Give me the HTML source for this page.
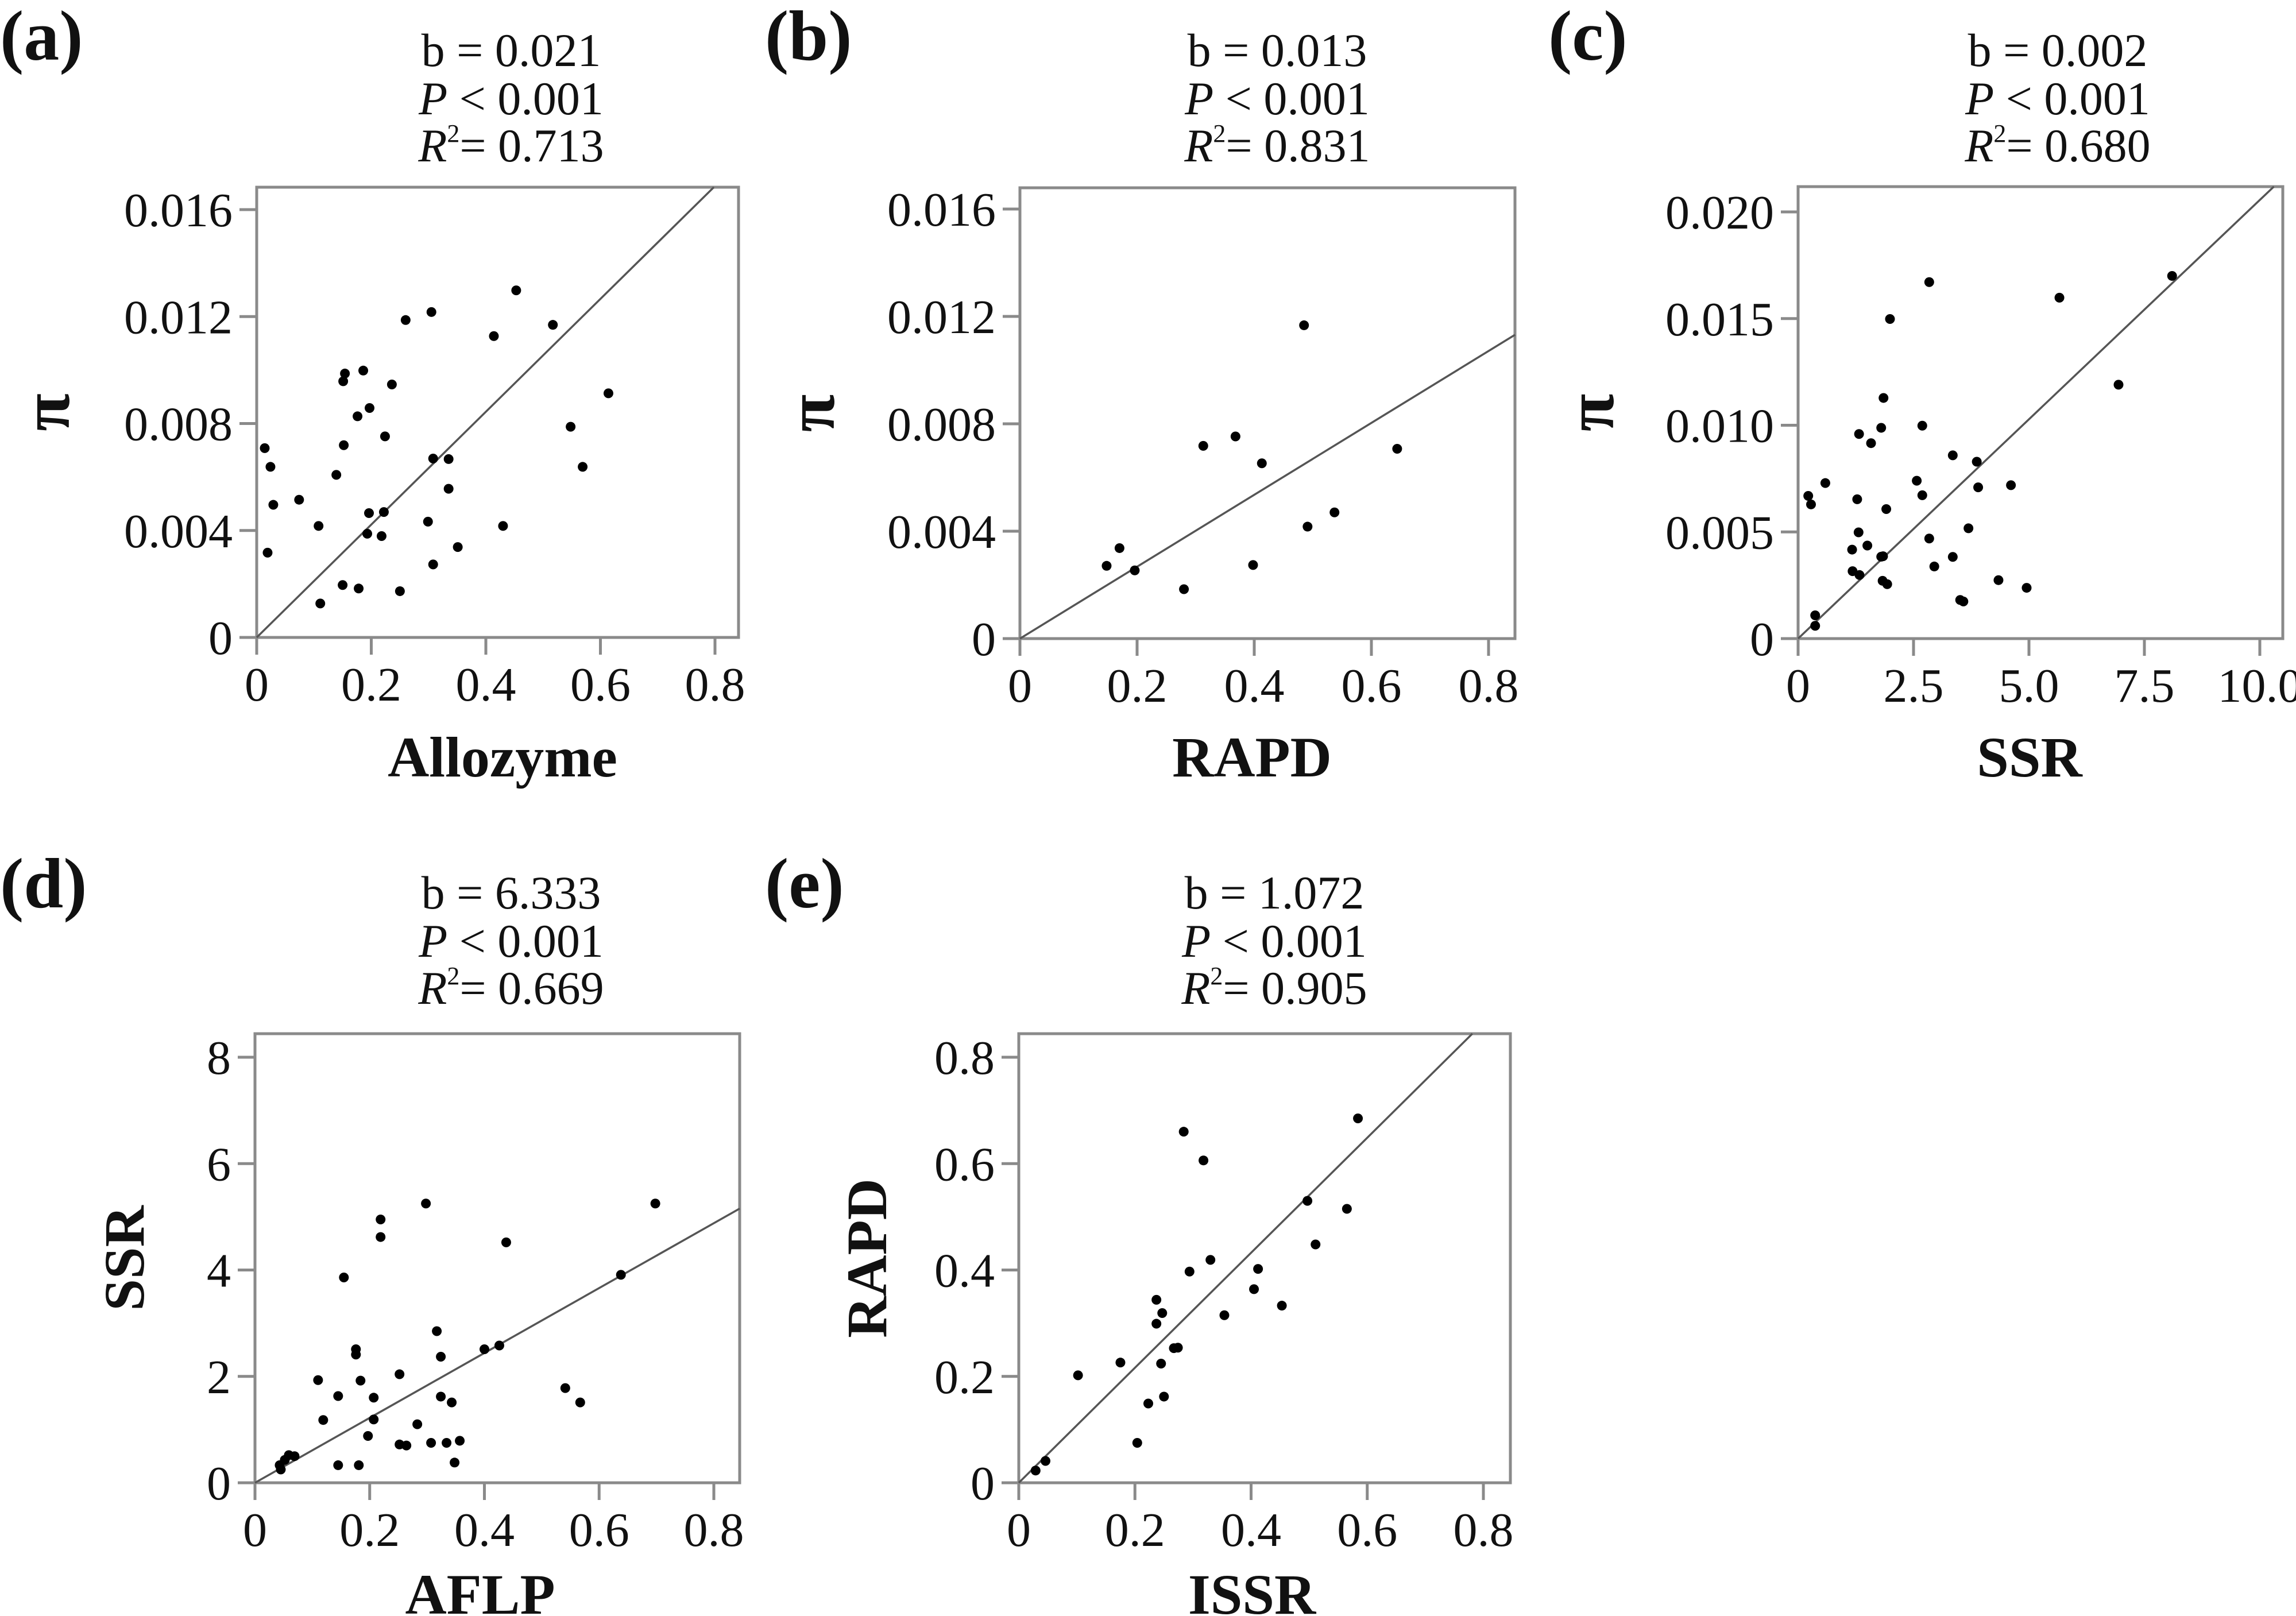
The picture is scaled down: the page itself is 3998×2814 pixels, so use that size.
<!DOCTYPE html>
<html><head><meta charset="utf-8"><style>
html,body{margin:0;padding:0;background:#fff;}
svg{display:block;}
text{font-family:"Liberation Serif",serif;fill:#111;}
</style></head><body>
<svg id="fig" width="3998" height="2814" viewBox="0 0 3998 2814" xmlns="http://www.w3.org/2000/svg"></svg>
<script>
// ---- Data ----
const aX=[.014,.024,.029,.019,.074,.108,.111,.139,.152,.154,.151,.150,.178,.176,.186,.197,.196,.193,.222,.218,.224,.236,.250,.260,.305,.299,.308,.308,.335,.335,.351,.414,.430,.453,.517,.548,.569,.614];
const aY=[.00708,.00638,.00496,.00317,.00515,.00417,.00127,.00608,.00719,.00987,.00958,.00196,.00183,.00827,.00998,.00858,.00465,.00388,.00469,.00379,.00752,.00946,.00173,.01187,.01217,.00433,.00669,.00273,.00667,.00556,.00338,.01127,.00417,.01298,.01169,.00788,.00638,.00913];
const bX=[.148,.170,.196,.280,.313,.368,.413,.398,.485,.491,.537,.644];
const bY=[.00271,.00337,.00254,.00184,.00718,.00753,.00653,.00274,.01167,.00417,.00470,.00707];
const cX=[.22,.28,.59,.37,.37,1.28,1.31,1.32,1.17,1.18,1.33,1.50,1.58,1.80,1.84,1.80,1.85,1.91,1.83,1.93,1.99,2.57,2.69,2.69,2.84,2.84,2.95,3.35,3.35,3.51,3.58,3.69,3.87,3.90,4.34,4.61,4.95,5.66,6.94,8.10];
const cY=[.00669,.00629,.00729,.00109,.0006,.00653,.00498,.00959,.00417,.00316,.00298,.00436,.00916,.00384,.00386,.00988,.01128,.00607,.00271,.00255,.01498,.0074,.00672,.00998,.01671,.00469,.00338,.00859,.00383,.00181,.00174,.00517,.00829,.00709,.00274,.00719,.00238,.01598,.0119,.017];
const dX=[.043,.052,.059,.069,.045,.110,.119,.145,.145,.155,.176,.176,.181,.184,.197,.207,.207,.219,.219,.252,.252,.264,.283,.298,.307,.317,.324,.324,.334,.343,.348,.357,.400,.426,.438,.541,.567,.638,.698];
const dY=[.33,.43,.52,.50,.25,1.93,1.18,1.63,.33,3.86,2.51,2.41,.33,1.92,.88,1.19,1.60,4.95,4.62,2.04,.72,.70,1.10,5.25,.75,2.85,2.37,1.62,.75,1.51,.38,.79,2.51,2.58,4.52,1.78,1.51,3.91,5.25];
const eX=[.029,.046,.102,.175,.204,.223,.237,.237,.247,.245,.250,.267,.274,.284,.294,.318,.330,.354,.405,.412,.453,.497,.511,.565,.584];
const eY=[.023,.041,.202,.226,.075,.149,.344,.299,.319,.224,.162,.253,.254,.660,.397,.606,.419,.315,.364,.402,.333,.530,.448,.515,.685];
const slopes=[0.0211,0.01339,0.002056,6.10,1.081];
const xTicksA=[0,0.2,0.4,0.6,0.8], xTickLabA=["0","0.2","0.4","0.6","0.8"];
const xTicksC=[0,2.5,5,7.5,10], xTickLabC=["0","2.5","5.0","7.5","10.0"];
const yTicksPi=[0,0.004,0.008,0.012,0.016], yTickLabPi=["0","0.004","0.008","0.012","0.016"];
const yTicksC=[0,0.005,0.01,0.015,0.02], yTickLabC=["0","0.005","0.010","0.015","0.020"];
const yTicksD=[0,2,4,6,8], yTickLabD=["0","2","4","6","8"];
const yTicksE=[0,0.2,0.4,0.6,0.8], yTickLabE=["0","0.2","0.4","0.6","0.8"];
const stats=[["b = 0.021","0.713"],["b = 0.013","0.831"],["b = 0.002","0.680"],["b = 6.333","0.669"],["b = 1.072","0.905"]];

const NS="http://www.w3.org/2000/svg";
const svg=document.getElementById('fig');
function mk(tag,attrs,parent){const e=document.createElementNS(NS,tag);for(const k in attrs)e.setAttribute(k,attrs[k]);(parent||svg).appendChild(e);return e;}

const panels=[
 {id:'a',x0:447,y0:1110,xEnd:1245,xMax:0.8,right:1286,top:326,yEnd:365,yMax:0.016,X:aX,Y:aY,xt:xTicksA,xl:xTickLabA,yt:yTicksPi,yl:yTickLabPi,xlab:'Allozyme',ylab:'π',tx:890,ty:115,lx:0,ly:104,ylx:120,xlx:875,xly:1352},
 {id:'b',x0:1776,y0:1112,xEnd:2592,xMax:0.8,right:2638,top:327,yEnd:364,yMax:0.016,X:bX,Y:bY,xt:xTicksA,xl:xTickLabA,yt:yTicksPi,yl:yTickLabPi,xlab:'RAPD',ylab:'π',tx:2224,ty:115,lx:1332,ly:104,ylx:1452,xlx:2180,xly:1352},
 {id:'c',x0:3131,y0:1112,xEnd:3935,xMax:10,right:3975,top:325,yEnd:369,yMax:0.02,X:cX,Y:cY,xt:xTicksC,xl:xTickLabC,yt:yTicksC,yl:yTickLabC,xlab:'SSR',ylab:'π',tx:3583,ty:115,lx:2696,ly:104,ylx:2809,xlx:3534,xly:1352},
 {id:'d',x0:444,y0:2582,xEnd:1243,xMax:0.8,right:1288,top:1800,yEnd:1841,yMax:8,X:dX,Y:dY,xt:xTicksA,xl:xTickLabA,yt:yTicksD,yl:yTickLabD,xlab:'AFLP',ylab:'SSR',tx:890,ty:1582,lx:0,ly:1580,ylx:250,xlx:836,xly:2810},
 {id:'e',x0:1774,y0:2582,xEnd:2583,xMax:0.8,right:2630,top:1800,yEnd:1841,yMax:0.8,X:eX,Y:eY,xt:xTicksA,xl:xTickLabA,yt:yTicksE,yl:yTickLabE,xlab:'ISSR',ylab:'RAPD',tx:2219,ty:1582,lx:1332,ly:1580,ylx:1543,xlx:2180,xly:2810}
];

panels.forEach((p,i)=>{
  const g=mk('g',{});
  
  
  const sx=v=>p.x0+(v/p.xMax)*(p.xEnd-p.x0);
  const sy=v=>p.y0-(v/p.yMax)*(p.y0-p.yEnd);
  const fr=mk('rect',{x:p.x0,y:p.top,width:p.right-p.x0,height:p.y0-p.top,fill:'none',stroke:'#8a8a8a','stroke-width':5},g);
  
  
  p.xt.forEach((v,k)=>{
    const t=mk('line',{x1:sx(v),x2:sx(v),y1:p.y0,y2:p.y0+30,stroke:'#8a8a8a','stroke-width':5},g);
    
    
    const l=mk('text',{x:sx(v),y:p.y0+110,'font-size':84,'text-anchor':'middle'},g);
    l.textContent=p.xl[k];
    
    
  });
  p.yt.forEach((v,k)=>{
    const t=mk('line',{x1:p.x0-30,x2:p.x0,y1:sy(v),y2:sy(v),stroke:'#8a8a8a','stroke-width':5},g);
    
    
    const l=mk('text',{x:p.x0-42,y:sy(v)+29,'font-size':84,'text-anchor':'end'},g);
    l.textContent=p.yl[k];
    
    
  });
  let xe=p.xMax*(p.right-p.x0)/(p.xEnd-p.x0), ye=slopes[i]*xe;
  if(ye>p.yMax*(p.y0-p.top)/(p.y0-p.yEnd)){ye=p.yMax*(p.y0-p.top)/(p.y0-p.yEnd);xe=ye/slopes[i];}
  const rl=mk('line',{x1:sx(0),y1:sy(0),x2:sx(xe),y2:sy(ye),stroke:'#555','stroke-width':3.5},g);
  
  
  p.X.forEach((v,k)=>{
    const c=mk('circle',{cx:sx(v),cy:sy(p.Y[k]),r:8.5,fill:'#000'},g);
    
    
  });
  const s1=mk('text',{x:p.tx,y:p.ty,'font-size':82,'text-anchor':'middle'},g);
  s1.textContent=stats[i][0];
  
  
  const s2=mk('text',{x:p.tx,y:p.ty+84,'font-size':82,'text-anchor':'middle'},g);
  s2.innerHTML='<tspan font-style="italic">P</tspan> &lt; 0.001';
  
  
  const s3=mk('text',{x:p.tx,y:p.ty+166,'font-size':82,'text-anchor':'middle'},g);
  s3.innerHTML='<tspan font-style="italic">R</tspan><tspan font-size="44" dy="-34">2</tspan><tspan dy="34">= '+stats[i][1]+'</tspan>';
  
  
  const pl=mk('text',{x:p.lx,y:p.ly,'font-size':124,'font-weight':'bold'},g);
  pl.textContent='('+p.id+')';
  
  
  const xt=mk('text',{x:p.xlx,y:p.xly,'font-size':100,'font-weight':'bold','text-anchor':'middle'},g);
  xt.textContent=p.xlab;
  
  
  const cy=(p.y0+p.top)/2;
  const yt=mk('text',{x:p.ylx,y:cy,'font-size':p.ylab==='π'?120:100,'font-weight':'bold','text-anchor':'middle',transform:'rotate(-90 '+p.ylx+' '+cy+')'},g);
  yt.textContent=p.ylab;
  
  
});
</script>
</body></html>
